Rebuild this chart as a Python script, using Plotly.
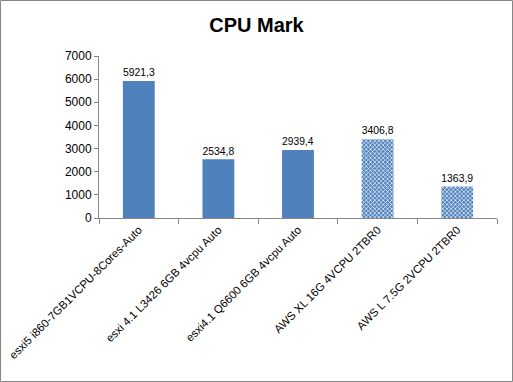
import plotly.graph_objects as go

categories = ["esxi5 i860-7GB1VCPU-8Cores-Auto", "esxi 4.1 L3426 6GB 4vcpu Auto",
              "esxi4.1 Q6600 6GB 4vcpu Auto", "AWS XL 16G 4VCPU 2TBR0", "AWS L 7.5G 2VCPU 2TBR0"]
values = [5921.3, 2534.8, 2939.4, 3406.8, 1363.9]
patterned = [False, False, False, True, True]
y_ticks = [0, 1000, 2000, 3000, 4000, 5000, 6000, 7000]

blue = "#4F81BD"
labels = [f"{v:.1f}".replace(".", ",") for v in values]

fig = go.Figure(go.Bar(
    x=categories, y=values, text=labels, textposition="outside",
    textfont=dict(size=11.5, color="#000000"),
    marker=dict(
        color=blue,
        line=dict(width=0),
        pattern=dict(shape=["x" if p else "" for p in patterned], fillmode="overlay",
                     fgcolor="#FFFFFF", fgopacity=1, size=3, solidity=0.4),
    ),
    width=0.4, cliponaxis=False, hoverinfo="skip",
))

fig.update_layout(
    width=513, height=382,
    margin=dict(l=99, r=16, t=56, b=164, autoexpand=False),
    paper_bgcolor="#FFFFFF", plot_bgcolor="#FFFFFF",
    font=dict(family="Liberation Sans, Arial", size=11, color="#000000"),
    title=dict(text="<b>CPU Mark</b>", x=0.5, xanchor="center", y=0.935, yanchor="middle",
               font=dict(size=20, family="Liberation Sans, Arial")),
    showlegend=False,
    xaxis=dict(tickangle=-45, showline=True, linecolor="#868686", linewidth=1,
               ticks="outside", tickson="boundaries", ticklen=5, tickcolor="#868686",
               tickfont=dict(size=11.3), automargin=False),
    yaxis=dict(range=[0, 7000], tickvals=y_ticks, showline=True, linecolor="#868686",
               linewidth=1, ticks="outside", ticklen=4, tickcolor="#868686",
               showgrid=False, zeroline=False, tickfont=dict(size=12), automargin=False),
    shapes=[dict(type="rect", xref="paper", yref="paper",
                 x0=-98.5/398, x1=1+15.5/398, y0=-163.5/162, y1=1+55.5/162,
                 line=dict(color="#868686", width=1))],
)

fig.write_html("out.html", config={"displayModeBar": False},
               post_script="document.body.style.margin='0';document.body.style.overflow='hidden';")
